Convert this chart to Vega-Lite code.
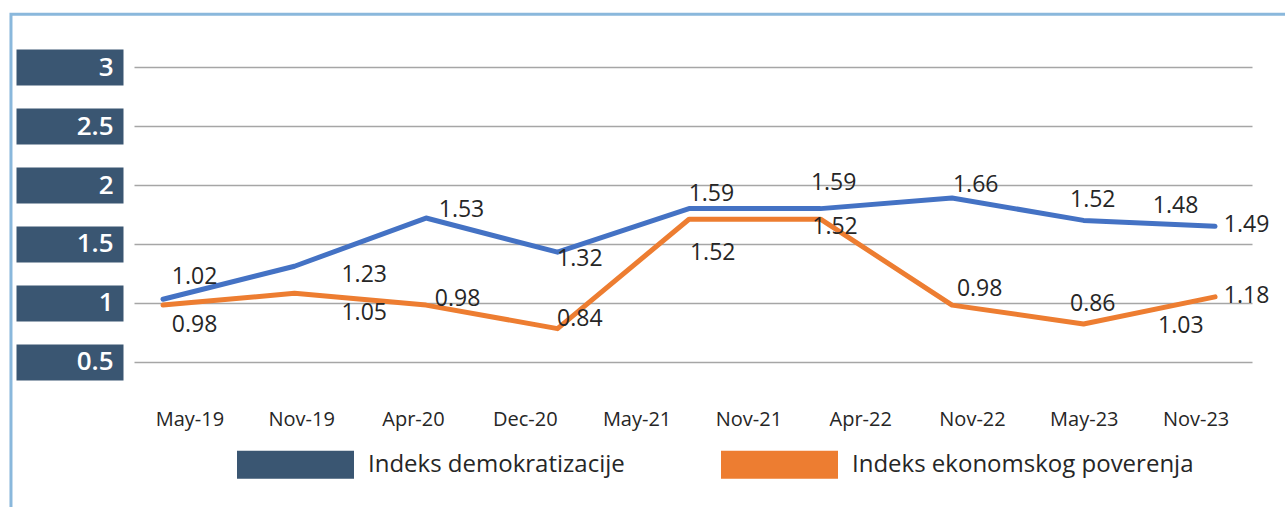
{
  "$schema": "https://vega.github.io/schema/vega-lite/v6.json",
  "width": 1118,
  "height": 353,
  "autosize": {"type": "none"},
  "padding": {"left": 134, "top": 38, "right": 33, "bottom": 116},
  "background": "white",
  "config": {"view": {"stroke": null}, "font": "Open Sans"},
  "datasets": {
    "months": [
      {"month": "May-19"}, {"month": "Nov-19"}, {"month": "Apr-20"}, {"month": "Dec-20"}, {"month": "May-21"},
      {"month": "Nov-21"}, {"month": "Apr-22"}, {"month": "Nov-22"}, {"month": "May-23"}, {"month": "Nov-23"}
    ],
    "lines": [
      {"series": "Indeks demokratizacije", "i": 0, "value": 1.03},
      {"series": "Indeks demokratizacije", "i": 1, "value": 1.31},
      {"series": "Indeks demokratizacije", "i": 2, "value": 1.72},
      {"series": "Indeks demokratizacije", "i": 3, "value": 1.43},
      {"series": "Indeks demokratizacije", "i": 4, "value": 1.80},
      {"series": "Indeks demokratizacije", "i": 5, "value": 1.80},
      {"series": "Indeks demokratizacije", "i": 6, "value": 1.89},
      {"series": "Indeks demokratizacije", "i": 7, "value": 1.70},
      {"series": "Indeks demokratizacije", "i": 8, "value": 1.65},
      {"series": "Indeks ekonomskog poverenja", "i": 0, "value": 0.98},
      {"series": "Indeks ekonomskog poverenja", "i": 1, "value": 1.08},
      {"series": "Indeks ekonomskog poverenja", "i": 2, "value": 0.98},
      {"series": "Indeks ekonomskog poverenja", "i": 3, "value": 0.78},
      {"series": "Indeks ekonomskog poverenja", "i": 4, "value": 1.71},
      {"series": "Indeks ekonomskog poverenja", "i": 5, "value": 1.71},
      {"series": "Indeks ekonomskog poverenja", "i": 6, "value": 0.98},
      {"series": "Indeks ekonomskog poverenja", "i": 7, "value": 0.82},
      {"series": "Indeks ekonomskog poverenja", "i": 8, "value": 1.05}
    ],
    "labels": [
      {"series": "Indeks demokratizacije", "label": "1.02", "at": 0.24, "level": 1.22},
      {"series": "Indeks demokratizacije", "label": "1.23", "at": 1.53, "level": 1.24},
      {"series": "Indeks demokratizacije", "label": "1.53", "at": 2.27, "level": 1.79},
      {"series": "Indeks demokratizacije", "label": "1.32", "at": 3.17, "level": 1.37},
      {"series": "Indeks demokratizacije", "label": "1.59", "at": 4.17, "level": 1.92},
      {"series": "Indeks demokratizacije", "label": "1.59", "at": 5.10, "level": 2.02},
      {"series": "Indeks demokratizacije", "label": "1.66", "at": 6.18, "level": 2.00},
      {"series": "Indeks demokratizacije", "label": "1.52", "at": 7.07, "level": 1.87},
      {"series": "Indeks demokratizacije", "label": "1.48", "at": 7.70, "level": 1.82},
      {"series": "Indeks demokratizacije", "label": "1.49", "at": 8.24, "level": 1.66},
      {"series": "Indeks ekonomskog poverenja", "label": "0.98", "at": 0.24, "level": 0.81},
      {"series": "Indeks ekonomskog poverenja", "label": "1.05", "at": 1.53, "level": 0.91},
      {"series": "Indeks ekonomskog poverenja", "label": "0.98", "at": 2.24, "level": 1.03},
      {"series": "Indeks ekonomskog poverenja", "label": "0.84", "at": 3.17, "level": 0.86},
      {"series": "Indeks ekonomskog poverenja", "label": "1.52", "at": 4.18, "level": 1.42},
      {"series": "Indeks ekonomskog poverenja", "label": "1.52", "at": 5.11, "level": 1.64},
      {"series": "Indeks ekonomskog poverenja", "label": "0.98", "at": 6.21, "level": 1.12},
      {"series": "Indeks ekonomskog poverenja", "label": "0.86", "at": 7.07, "level": 0.99},
      {"series": "Indeks ekonomskog poverenja", "label": "1.03", "at": 7.74, "level": 0.80},
      {"series": "Indeks ekonomskog poverenja", "label": "1.18", "at": 8.24, "level": 1.06}
    ]
  },
  "resolve": {"scale": {"x": "independent"}},
  "layer": [
    {
      "data": {"name": "months"},
      "mark": {"type": "tick", "opacity": 0},
      "encoding": {
        "x": {
          "field": "month", "type": "ordinal", "sort": null,
          "scale": {"type": "band", "paddingInner": 0, "paddingOuter": 0},
          "axis": {"title": null, "domain": false, "ticks": false, "tickSize": 0, "labelPadding": 18, "labelFontSize": 20, "labelColor": "#262626", "labelFont": "Open Sans", "labelAngle": 0, "grid": false}
        }
      }
    },
    {
      "layer": [
        {
          "data": {"name": "lines"},
          "mark": {"type": "line", "strokeWidth": 5, "strokeJoin": "round", "strokeCap": "round"},
          "encoding": {
            "x": {"field": "i", "type": "quantitative", "scale": {"domain": [-0.2205, 8.281], "nice": false, "zero": false}, "axis": null},
            "y": {
              "field": "value", "type": "quantitative", "title": null,
              "scale": {"domain": [0.25, 3.25], "nice": false, "zero": false},
              "axis": {"title": null, "values": [0.5, 1, 1.5, 2, 2.5, 3], "format": "~g", "offset": 11, "domain": false, "ticks": true, "tickSize": 107, "tickWidth": 36, "tickColor": "#3a5672", "tickCap": "butt", "labelPadding": -97, "labelFontSize": 26, "labelFontWeight": 600, "labelColor": "white", "labelFont": "Open Sans", "labelAlign": "right", "labelBaseline": "middle", "grid": true, "gridColor": "#a6a6a6", "gridWidth": 1.5, "zindex": 0}
            },
            "color": {"field": "series", "type": "nominal", "scale": {"range": ["#4472c4", "#ed7d31"]}, "legend": null}
          }
        },
        {
          "data": {"values": [{}]},
          "mark": {"type": "rect", "filled": false, "stroke": "#8ab8dc", "strokeWidth": 3},
          "encoding": {
            "x": {"datum": -1.156, "type": "quantitative"},
            "x2": {"datum": 8.65},
            "y": {"datum": 3.452, "type": "quantitative", "title": null},
            "y2": {"datum": -0.846}
          }
        },
        {
          "data": {"name": "labels"},
          "mark": {"type": "text", "fontSize": 23, "color": "#262626", "font": "Open Sans", "align": "center", "baseline": "middle"},
          "encoding": {
            "x": {"field": "at", "type": "quantitative"},
            "y": {"field": "level", "type": "quantitative", "title": null},
            "text": {"field": "label"}
          }
        },
        {
          "data": {"name": "lines"},
          "mark": {"type": "point", "filled": true, "opacity": 0},
          "encoding": {
            "x": {"field": "i", "type": "quantitative"},
            "y": {"field": "value", "type": "quantitative", "title": null},
            "fill": {
              "field": "series", "type": "nominal",
              "scale": {"range": ["#3a5672", "#ed7d31"]},
              "legend": {"title": null, "orient": "none", "legendX": 103, "legendY": 368, "direction": "horizontal", "symbolType": "M-1,-0.24H1V0.24H-1Z", "symbolSize": 13689, "symbolStrokeWidth": 0, "symbolOpacity": 1, "labelFontSize": 24, "labelFont": "Open Sans", "labelColor": "#262626", "labelLimit": 600, "labelOffset": 14, "columnPadding": 96}
            }
          }
        }
      ]
    }
  ]
}
